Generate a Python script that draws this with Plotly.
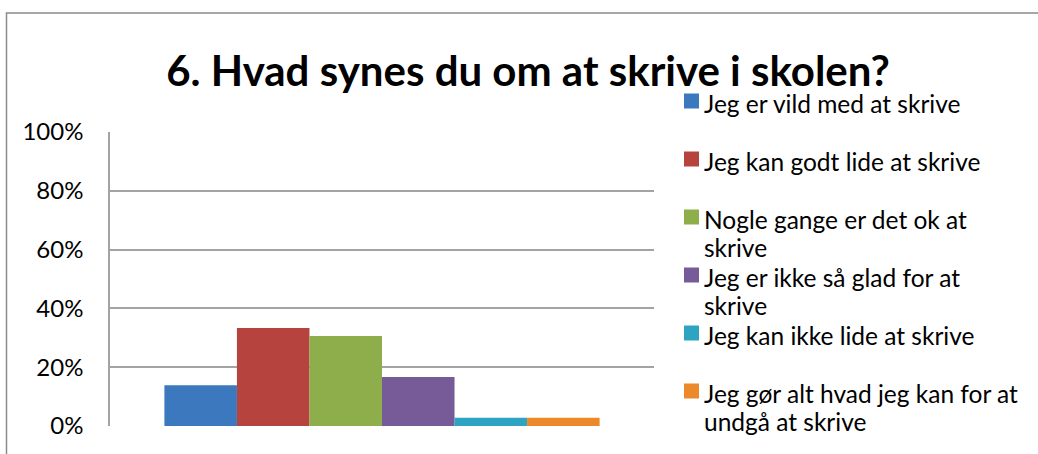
import plotly.graph_objects as go

categories = ["Jeg er vild med at skrive",
              "Jeg kan godt lide at skrive",
              "Nogle gange er det ok at skrive",
              "Jeg er ikke så glad for at skrive",
              "Jeg kan ikke lide at skrive",
              "Jeg gør alt hvad jeg kan for at undgå at skrive"]
legend_lines = [["Jeg er vild med at skrive"],
                ["Jeg kan godt lide at skrive"],
                ["Nogle gange er det ok at", "skrive"],
                ["Jeg er ikke så glad for at", "skrive"],
                ["Jeg kan ikke lide at skrive"],
                ["Jeg gør alt hvad jeg kan for at", "undgå at skrive"]]
values = [0.139, 0.333, 0.306, 0.167, 0.028, 0.028]
colors = ["#3B78BD", "#B7433E", "#8DAE4B", "#775B98", "#2EA4C2", "#EB892B"]
tick_vals = [0, 0.2, 0.4, 0.6, 0.8, 1.0]
tick_text = ["0%", "20%", "40%", "60%", "80%", "100%"]
title_text = "6. Hvad synes du om at skrive i skolen?"

W, H = 1038, 454
L, R, T, B = 110, 654, 132, 426
FONT = "Lato"


def px(x):
    return (x - L) / (R - L)


def py(y):
    return (B - y) / (B - T)


fig = go.Figure()
for name, v, c in zip(categories, values, colors):
    fig.add_trace(go.Bar(x=["Q6"], y=[v], name=name, showlegend=False,
                         marker=dict(color=c, line=dict(width=0))))

shapes = [dict(type="rect", xref="paper", yref="paper",
               x0=px(6.5), x1=px(W + 50), y0=py(H + 50), y1=py(13),
               line=dict(color="#8a8a8a", width=1.5), fillcolor="rgba(0,0,0,0)", layer="below")]
annotations = []
item_y0, item_step, line_step = 101, 58, 28
for i, (lines, c) in enumerate(zip(legend_lines, colors)):
    yc = item_y0 + i * item_step
    shapes.append(dict(type="rect", xref="paper", yref="paper",
                       x0=px(684), x1=px(699), y0=py(yc + 7.5), y1=py(yc - 7.5),
                       fillcolor=c, line=dict(width=0)))
    for k, t in enumerate(lines):
        annotations.append(dict(text=t, xref="paper", yref="paper",
                                x=px(702), y=py(yc + 2 + k * line_step),
                                xanchor="left", yanchor="middle", showarrow=False,
                                font=dict(family=FONT, size=24.5, color="black")))

fig.update_layout(
    width=W, height=H,
    margin=dict(l=L, r=W - R, t=T, b=H - B, autoexpand=False),
    paper_bgcolor="white", plot_bgcolor="white",
    barmode="group", bargap=0.2, bargroupgap=0,
    showlegend=False,
    title=dict(text="<b>" + title_text + "</b>",
               x=528 / W, xanchor="center", y=1 - 71 / H, yanchor="middle",
               font=dict(family=FONT, size=42, color="black")),
    xaxis=dict(showticklabels=False, showgrid=False, zeroline=False, showline=False,
               range=[-0.5, 0.5]),
    yaxis=dict(range=[0, 1.0], tickvals=tick_vals, ticktext=tick_text,
               showgrid=True, gridcolor="#a3a3a3", gridwidth=1.6,
               showline=True, linecolor="#a3a3a3", linewidth=1.6,
               ticks="", ticklabelstandoff=20, zeroline=False,
               tickfont=dict(family=FONT, size=24, color="black")),
    shapes=shapes,
    annotations=annotations,
)

fig.write_html("out.html", config={"displayModeBar": False},
               post_script="document.body.style.margin='0';")
